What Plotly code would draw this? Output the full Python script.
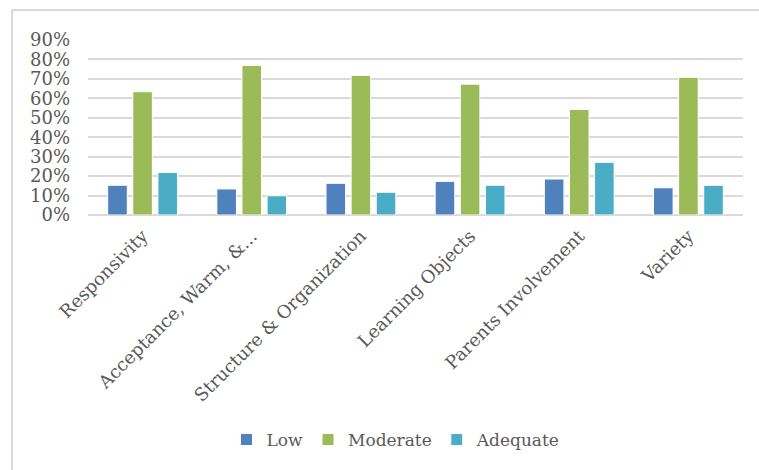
import plotly.graph_objects as go

categories = ["Responsivity", "Acceptance, Warm, &...", "Structure & Organization",
              "Learning Objects", "Parents Involvement", "Variety"]
low = [0.153, 0.134, 0.163, 0.173, 0.185, 0.140]
moderate = [0.634, 0.769, 0.718, 0.673, 0.543, 0.708]
adequate = [0.219, 0.099, 0.117, 0.153, 0.271, 0.153]
series_names = ["Low", "Moderate", "Adequate"]
colors = ["#4f81bd", "#9bbb59", "#4bacc6"]
ytick_vals = [0, 0.1, 0.2, 0.3, 0.4, 0.5, 0.6, 0.7, 0.8, 0.9]
ytick_text = ["0%", "10%", "20%", "30%", "40%", "50%", "60%", "70%", "80%", "90%"]

W, H = 759, 470
ml, mr, mt, mb = 88, 16, 40, 255
pw, ph = W - ml - mr, H - mt - mb

font_family = "DejaVu Serif"
grey = "#595959"

fig = go.Figure()
for name, vals, c in zip(series_names, [low, moderate, adequate], colors):
    fig.add_trace(go.Bar(x=categories, y=vals, name=name,
                         marker=dict(color=c, line=dict(color="white", width=1))))

def px_x(p):
    return (p - ml) / pw

def px_y(p):
    return (H - mb - p) / ph

fig.update_layout(
    width=W, height=H,
    margin=dict(l=ml, r=mr, t=mt, b=mb, autoexpand=False),
    paper_bgcolor="white", plot_bgcolor="white",
    barmode="group", bargap=0.31, bargroupgap=0.22,
    font=dict(family=font_family, color=grey, size=18),
    xaxis=dict(tickangle=-45, showgrid=False, showline=False, ticks="",
               tickfont=dict(size=18, color=grey), ticklabelstandoff=6),
    yaxis=dict(range=[0, 0.9], tickvals=ytick_vals, ticktext=ytick_text,
               showgrid=True, gridcolor="#d9d9d9", gridwidth=2,
               zeroline=True, zerolinecolor="#d9d9d9", zerolinewidth=2,
               showline=False, ticks="", tickfont=dict(size=18, color=grey),
               ticklabelstandoff=17),
    legend=dict(orientation="h", x=px_x(396), xanchor="center",
                y=px_y(440), yanchor="middle",
                font=dict(size=17, color=grey), itemwidth=30,
                traceorder="normal"),
    shapes=[
        dict(type="line", xref="paper", yref="paper",
             x0=px_x(12), x1=px_x(W + 5), y0=px_y(10), y1=px_y(10),
             line=dict(color="#d9d9d9", width=2)),
        dict(type="line", xref="paper", yref="paper",
             x0=px_x(12), x1=px_x(12), y0=px_y(10), y1=px_y(H + 5),
             line=dict(color="#d9d9d9", width=2)),
    ],
)

fig.write_html("out.html")
